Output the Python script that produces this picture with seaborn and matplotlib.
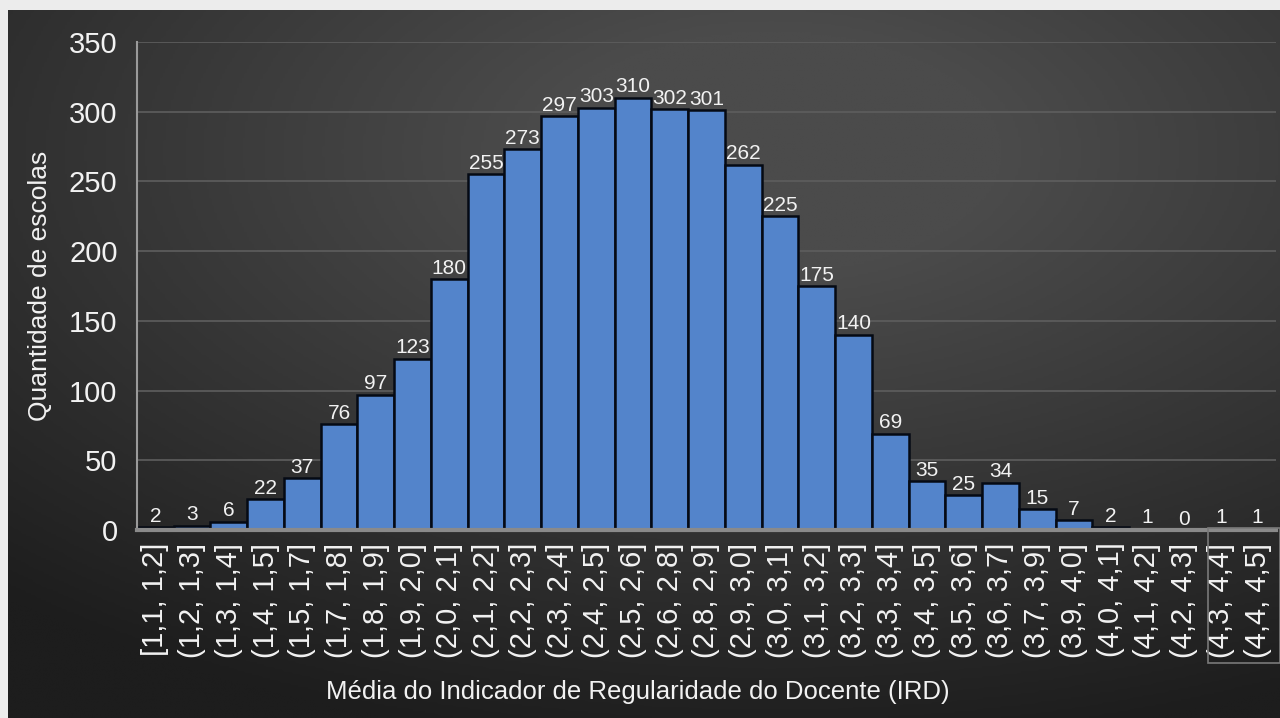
import matplotlib
matplotlib.use("Agg")
import matplotlib.pyplot as plt
import seaborn as sns
import pandas as pd
import numpy as np

sns.set_style("dark")
plt.rcParams['font.family'] = ['Liberation Sans', 'DejaVu Sans']

# data
faixas = ['[1,1, 1,2]', '(1,2, 1,3]', '(1,3, 1,4]', '(1,4, 1,5]', '(1,5, 1,7]',
          '(1,7, 1,8]', '(1,8, 1,9]', '(1,9, 2,0]', '(2,0, 2,1]', '(2,1, 2,2]',
          '(2,2, 2,3]', '(2,3, 2,4]', '(2,4, 2,5]', '(2,5, 2,6]', '(2,6, 2,8]',
          '(2,8, 2,9]', '(2,9, 3,0]', '(3,0, 3,1]', '(3,1, 3,2]', '(3,2, 3,3]',
          '(3,3, 3,4]', '(3,4, 3,5]', '(3,5, 3,6]', '(3,6, 3,7]', '(3,7, 3,9]',
          '(3,9, 4,0]', '(4,0, 4,1]', '(4,1, 4,2]', '(4,2, 4,3]', '(4,3, 4,4]',
          '(4,4, 4,5]']
escolas = [2, 3, 6, 22, 37, 76, 97, 123, 180, 255, 273, 297, 303, 310, 302,
           301, 262, 225, 175, 140, 69, 35, 25, 34, 15, 7, 2, 1, 0, 1, 1]

df = pd.DataFrame({'Faixa': faixas, 'Escolas': escolas})

fig = plt.figure(figsize=(12.8, 7.18), dpi=100)
fig.patch.set_facecolor('#ececec')

# dark radial background
bg = fig.add_axes([8 / 1280, 0, 1 - 8 / 1280, 1 - 10 / 718])
yy, xx = np.mgrid[0:1:300j, 0:1:500j]
r = np.sqrt(((xx - 0.6) / 0.9) ** 2 + ((yy - 0.2) / 0.85) ** 2)
grad = np.clip(1 - r, 0, 1)
bg.imshow(grad, cmap=sns.blend_palette(['#1d1d1d', '#4b4b4b'], as_cmap=True),
          aspect='auto', extent=[0, 1, 0, 1], vmin=0, vmax=0.8)
bg.axis('off')

ax = fig.add_axes([137 / 1280, 188 / 718, 1139 / 1280, 488 / 718])
ax.set_facecolor('none')
sns.barplot(data=df, x='Faixa', y='Escolas', color='#5384cb', saturation=1,
            edgecolor='#050a14', linewidth=1.8, width=1.0, ax=ax)
ax.bar_label(ax.containers[0], color='#f2f2f2', fontsize=15, padding=1)

ax.set_ylim(0, 350)
ax.set_xlim(-0.5, len(faixas) - 0.5)
ax.set_yticks(range(0, 351, 50))
ax.grid(axis='y', color='#5e5e5e', linewidth=1.2)
ax.set_axisbelow(True)
ax.tick_params(axis='y', colors='#f2f2f2', labelsize=21, length=0, pad=14)
ax.tick_params(axis='x', colors='#f2f2f2', labelsize=21, length=0, pad=9,
               labelrotation=90)
for s in ['top', 'right']:
    ax.spines[s].set_visible(False)
ax.spines['left'].set_color('#9a9a9a')
ax.spines['left'].set_linewidth(1.5)
ax.spines['bottom'].set_color('#8a8a8a')
ax.spines['bottom'].set_linewidth(3)

ax.set_ylabel('Quantidade de escolas', color='#f2f2f2', fontsize=19, labelpad=12)
ax.set_xlabel('')
fig.text(0.498, 26 / 718, 'Média do Indicador de Regularidade do Docente (IRD)',
         color='#f2f2f2', fontsize=18.5, ha='center', va='center')

# faint selection box around the last two tick labels
fig.patches.append(plt.Rectangle((1208 / 1280, 55 / 718), 72 / 1280, 135 / 718,
                                 transform=fig.transFigure, fill=False,
                                 edgecolor='#7a7a7a', linewidth=1.2))

plt.savefig('out.png', dpi=100)
